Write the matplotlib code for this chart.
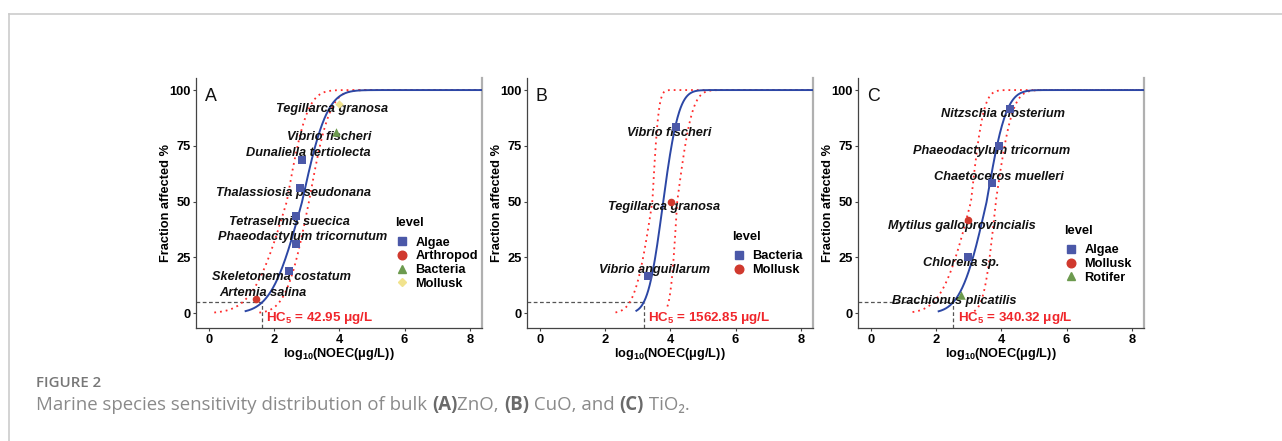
import math
import numpy as np
from matplotlib import pyplot as plt
from matplotlib.lines import Line2D

plt.rcParams['font.family'] = ['Liberation Sans', 'DejaVu Sans']
plt.rcParams['mathtext.fontset'] = 'custom'
plt.rcParams['mathtext.rm'] = 'Liberation Sans:bold'
plt.rcParams['mathtext.it'] = 'Liberation Sans:bold:italic'
plt.rcParams['mathtext.bf'] = 'Liberation Sans:bold'
plt.rcParams['mathtext.default'] = 'rm'

# ---- data ----
# panel A: ZnO
a_species = ['Artemia salina', 'Skeletonema costatum', 'Phaeodactylum tricornutum',
             'Tetraselmis suecica', 'Thalassiosia pseudonana', 'Dunaliella tertiolecta',
             'Vibrio fischeri', 'Tegillarca granosa']
a_level = ['Arthropod', 'Algae', 'Algae', 'Algae', 'Algae', 'Algae', 'Bacteria', 'Mollusk']
a_logx = [1.45, 2.47, 2.68, 2.67, 2.80, 2.86, 3.91, 3.98]
a_frac = [6.25, 18.75, 31.25, 43.75, 56.25, 68.75, 81.25, 93.75]
a_hc5 = 42.95

# panel B: CuO
b_species = ['Vibrio anguillarum', 'Tegillarca granosa', 'Vibrio fischeri']
b_level = ['Bacteria', 'Mollusk', 'Bacteria']
b_logx = [3.33, 4.01, 4.17]
b_frac = [16.67, 50.0, 83.33]
b_hc5 = 1562.85

# panel C: TiO2
c_species = ['Brachionus plicatilis', 'Chlorella sp.', 'Mytilus galloprovincialis',
             'Chaetoceros muelleri', 'Phaeodactylum tricornum', 'Nitzschia closterium']
c_level = ['Rotifer', 'Algae', 'Mollusk', 'Algae', 'Algae', 'Algae']
c_logx = [2.76, 2.98, 2.98, 3.71, 3.92, 4.27]
c_frac = [8.33, 25.0, 41.67, 58.33, 75.0, 91.67]
c_hc5 = 340.32

# fitted curves: (centre, sd below, sd above, first x) for fit, lower and upper band
a_fit = [(2.86, 0.74, 0.60, 1.13), (2.39, 0.82, 0.49, 0.17), (3.07, 0.55, 0.50, 1.55)]
b_fit = [(3.78, 0.36, 0.38, 2.96), (3.45, 0.42, 0.15, 2.32), (4.21, 0.16, 0.36, 3.91)]
c_fit = [(3.55, 0.62, 0.47, 2.08), (3.07, 0.70, 0.30, 1.28), (3.83, 0.28, 0.40, 3.17)]

# ---- layout / style ----
a_lab = [(1.67, 9.0), (2.24, 16.1), (2.88, 34.0), (2.48, 41.0), (2.61, 53.7),
         (3.06, 71.6), (3.68, 78.8), (3.79, 91.4)]
b_lab = [(3.51, 19.4), (3.80, 47.8), (3.98, 80.9)]
c_lab = [(2.56, 5.7), (2.77, 22.4), (2.80, 39.1), (3.92, 60.9), (3.71, 72.7), (4.06, 89.3)]

a_legend = ['Algae', 'Arthropod', 'Bacteria', 'Mollusk']
b_legend = ['Bacteria', 'Mollusk']
c_legend = ['Algae', 'Mollusk', 'Rotifer']
colors = ['#4b58a8', '#d0392e', '#6c9a4e', '#f1e38e']
markers = ['s', 'o', '^', 'D']
msizes = [30, 30, 38, 18]

W, H = 1282, 441
fig = plt.figure(figsize=(W / 100, H / 100), dpi=100)


def split_cdf(x, mu, slo, shi):
    s = np.where(x < mu, slo, shi)
    z = (x - mu) / (s * math.sqrt(2))
    return 50 * (1 + np.vectorize(math.erf)(z))


def panel(left, letter, logx, frac, level, species, lab, legend_levels, fit, hc5, hc5_x,
          leg_xy):
    ax = fig.add_axes([left / W, 113 / H, 286 / W, 250 / H])
    xmin, xmax = -0.39, 8.37
    ymin, ymax = -6.6, 105.4
    ax.set_xlim(xmin, xmax)
    ax.set_ylim(ymin, ymax)

    for k, (mu, slo, shi, x0) in enumerate(fit):
        xs = np.linspace(x0, xmax, 400)
        if k == 0:
            ax.plot(xs, split_cdf(xs, mu, slo, shi), color='#2c47a5', lw=1.4, zorder=3)
        else:
            ax.plot(xs, split_cdf(xs, mu, slo, shi), color='#ff2b2b', lw=1.3,
                    ls=(0, (1, 2.2)), zorder=2)

    h = math.log10(hc5)
    ax.plot([xmin, h], [5, 5], color='#555555', lw=0.9, ls=(0, (3, 2)), zorder=1)
    ax.plot([h, h], [ymin, 5], color='#555555', lw=0.9, ls=(0, (3, 2)), zorder=1)

    for name, (tx, ty) in zip(species, lab):
        ax.text(tx, ty, name, ha='center', va='center', fontsize=9.2,
                fontweight='bold', fontstyle='italic', color='#111111', zorder=4)

    for lv_i, lv in enumerate(legend_levels):
        xs = [x for x, l in zip(logx, level) if l == lv]
        ys = [y for y, l in zip(frac, level) if l == lv]
        ax.scatter(xs, ys, marker=markers[lv_i], s=msizes[lv_i], color=colors[lv_i],
                   linewidths=0, zorder=5)

    ax.text(hc5_x, -2.2, 'HC$_5$ = %.2f μg/L' % hc5, color='#f0262b', fontsize=9.6,
            fontweight='bold', ha='left', va='center', zorder=5)
    ax.text(-0.12, 97.0, letter, fontsize=12.8, ha='left', va='center', color='#111111')

    ax.set_xticks([0, 2, 4, 6, 8])
    ax.set_yticks([0, 25, 50, 75, 100])
    ax.tick_params(axis='both', labelsize=9.3, length=2.5, width=0.8, color='#444444', pad=1.5)
    for t in ax.get_xticklabels() + ax.get_yticklabels():
        t.set_fontweight('bold')
    ax.set_xlabel('log$_{10}$(NOEC(μg/L))', fontsize=9.2, fontweight='bold', labelpad=0)
    ax.set_ylabel('Fraction affected %', fontsize=9.2, fontweight='bold', labelpad=-2)
    ax.spines['top'].set_visible(False)
    ax.spines['left'].set_color('#444444')
    ax.spines['bottom'].set_color('#444444')
    ax.spines['left'].set_linewidth(0.9)
    ax.spines['bottom'].set_linewidth(0.9)
    ax.spines['right'].set_color('#b0b0b0')
    ax.spines['right'].set_linewidth(1.6)

    # legend: title placed separately, entries below it
    fig.text(leg_xy[0] / W, 1 - leg_xy[1] / H, 'level', fontsize=9.3, fontweight='bold',
             ha='left', va='center')
    handles = [Line2D([], [], ls='none', marker=markers[i], color=colors[i],
                      markersize=6.2 if markers[i] != 'D' else 4.5)
               for i in range(len(legend_levels))]
    leg = ax.legend(handles, legend_levels, loc='upper left',
                    bbox_to_anchor=(leg_xy[0] / W, 1 - (leg_xy[1] + 13.7) / H),
                    bbox_transform=fig.transFigure, frameon=False, borderpad=0,
                    borderaxespad=0, handlelength=1.1, handletextpad=0.5,
                    labelspacing=0.13, prop={'size': 9.2, 'weight': 'bold'})
    leg.set_zorder(6)
    return ax


panel(196, 'A', a_logx, a_frac, a_level, a_species, a_lab, a_legend, a_fit, a_hc5, 1.74,
      (395, 223))
panel(527, 'B', b_logx, b_frac, b_level, b_species, b_lab, b_legend, b_fit, b_hc5, 3.31,
      (732, 236.7))
panel(858, 'C', c_logx, c_frac, c_level, c_species, c_lab, c_legend, c_fit, c_hc5, 2.66,
      (1064, 230.7))

# page frame
fig.add_artist(Line2D([9 / W, 1], [1 - 13.5 / H, 1 - 13.5 / H], color='#cccccc', lw=1.2))
fig.add_artist(Line2D([9 / W, 9 / W], [0, 1 - 13.5 / H], color='#cccccc', lw=1.2))

# caption
fig.text(36 / W, 1 - 383 / H, 'FIGURE 2', fontsize=10.8, color='#777777',
         family=['Open Sans', 'DejaVu Sans'], fontweight='semibold', va='center')
pieces = [('Marine species sensitivity distribution of bulk ', 'normal', '#8a8a8a'),
          ('(A)', 'bold', '#6a6a6a'), ('ZnO, ', 'normal', '#8a8a8a'),
          ('(B)', 'bold', '#6a6a6a'), (' CuO, and ', 'normal', '#8a8a8a'),
          ('(C)', 'bold', '#6a6a6a'), (' TiO₂.', 'normal', '#8a8a8a')]
renderer = fig.canvas.get_renderer()
xpos = 36
for txt, wt, col in pieces:
    t = fig.text(xpos / W, 1 - 405 / H, txt, fontsize=13.4, color=col, fontweight=wt,
                 family=['Open Sans', 'DejaVu Sans'], va='center')
    bb = t.get_window_extent(renderer)
    xpos += bb.width

fig.savefig('out.png', dpi=100)
